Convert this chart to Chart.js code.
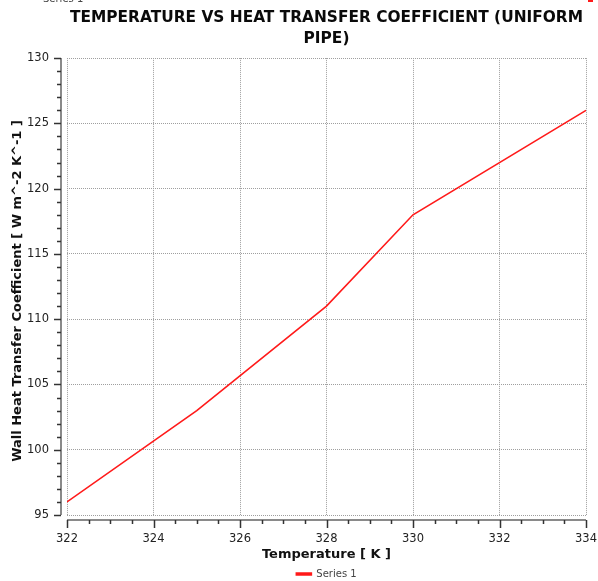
<!DOCTYPE html>
<html>
<head>
<meta charset="utf-8">
<script src="https://cdn.jsdelivr.net/npm/chart.js@4"></script>
<style>
  html,body{margin:0;padding:0;background:#fff;overflow:hidden;}
  #wrap{position:relative;width:598px;height:581px;overflow:hidden;}
  #topleg{position:absolute;left:23px;top:-7px;font:10px "DejaVu Sans";color:#444;white-space:nowrap;}
  #topleg i{display:inline-block;width:15px;height:2px;background:#ff1a1a;vertical-align:middle;margin-right:5px;}
  #topmark{position:absolute;left:588px;top:0;width:5px;height:2px;background:#ff1a1a;}
</style>
</head>
<body>
<div id="wrap">
  <canvas id="c" width="598" height="581"></canvas>
  <div id="topleg"><i></i>Series 1</div>
  <div id="topmark"></div>
</div>
<script>
const temperatures = [322, 325, 328, 330, 334];
const htc = [96, 103, 111, 118, 126];
const seriesName = 'Series 1';
const titleLines = ['TEMPERATURE VS HEAT TRANSFER COEFFICIENT (UNIFORM', 'PIPE)'];
const xTitle = 'Temperature [ K ]';
const yTitle = 'Wall Heat Transfer Coefficient [ W m^-2 K^-1 ]';
const xRange = [322, 334], xStep = 2, xMinorStep = 0.5;
const yRange = [95, 130], yStep = 5, yMinorStep = 1;

const axesPlugin = {
  id: 'axesPlugin',
  afterDraw(chart) {
    const {ctx, chartArea: ca, scales: {x, y}} = chart;
    ctx.save();
    const ax = ca.left - 6;
    ctx.strokeStyle = '#8a8a8a';
    ctx.lineWidth = 2;
    ctx.beginPath();
    ctx.moveTo(ax, y.getPixelForValue(yRange[1]));
    ctx.lineTo(ax, y.getPixelForValue(yRange[0]));
    ctx.stroke();
    ctx.strokeStyle = '#333';
    ctx.lineWidth = 1.5;
    for (let v = yRange[0]; v <= yRange[1] + 1e-9; v += yMinorStep) {
      const py = Math.round(y.getPixelForValue(v)) + 0.5;
      const len = (Math.abs(v % yStep) < 1e-9) ? 7 : 4;
      ctx.beginPath();
      ctx.moveTo(ax, py);
      ctx.lineTo(ax - len, py);
      ctx.stroke();
    }
    const ay = ca.bottom + 5;
    ctx.strokeStyle = '#8a8a8a';
    ctx.lineWidth = 2;
    ctx.beginPath();
    ctx.moveTo(x.getPixelForValue(xRange[0]), ay);
    ctx.lineTo(x.getPixelForValue(xRange[1]), ay);
    ctx.stroke();
    ctx.strokeStyle = '#333';
    ctx.lineWidth = 1.5;
    for (let v = xRange[0]; v <= xRange[1] + 1e-9; v += xMinorStep) {
      const px = Math.round(x.getPixelForValue(v)) + 0.5;
      const len = (Math.abs((v - xRange[0]) % xStep) < 1e-9) ? 8 : 4;
      ctx.beginPath();
      ctx.moveTo(px, ay);
      ctx.lineTo(px, ay + len);
      ctx.stroke();
    }
    ctx.translate(18, 291);
    ctx.rotate(-Math.PI / 2);
    ctx.fillStyle = '#111';
    ctx.font = 'bold 13px "DejaVu Sans"';
    ctx.textAlign = 'center';
    ctx.textBaseline = 'middle';
    ctx.fillText(yTitle, 0, 0);
    ctx.restore();
  }
};

new Chart(document.getElementById('c'), {
  type: 'line',
  data: {
    datasets: [{
      label: seriesName,
      data: temperatures.map((t, i) => ({x: t, y: htc[i]})),
      borderColor: '#ff1a1a',
      backgroundColor: '#ff1a1a',
      borderWidth: 1.6,
      pointRadius: 0,
      tension: 0
    }]
  },
  options: {
    responsive: false,
    animation: false,
    devicePixelRatio: 1,
    layout: {padding: {left: 0, right: 12, top: 0, bottom: -8}},
    plugins: {
      title: {
        display: true,
        text: titleLines,
        fullSize: false,
        color: '#0a0a0a',
        font: {family: 'DejaVu Sans', size: 15.4, weight: 'bold', lineHeight: 1.4},
        padding: {top: 7, bottom: 8}
      },
      legend: {
        position: 'bottom',
        fullSize: false,
        labels: {
          boxWidth: 15, boxHeight: 2, padding: 4,
          color: '#444',
          font: {family: 'DejaVu Sans', size: 10}
        }
      },
      tooltip: {enabled: false}
    },
    scales: {
      x: {
        type: 'linear',
        min: xRange[0], max: xRange[1],
        afterFit: s => { s.height = 50; s.paddingLeft = 0; s.paddingRight = 0; },
        ticks: {stepSize: xStep, padding: 17, color: '#222', font: {family: 'DejaVu Sans', size: 11.5}},
        grid: {color: '#9f9f9f', lineWidth: 1, drawTicks: false},
        border: {display: false, dash: [1, 1]},
        title: {display: true, text: xTitle, color: '#111', font: {family: 'DejaVu Sans', size: 13, weight: 'bold'}, padding: {top: 0, bottom: 3}}
      },
      y: {
        type: 'linear',
        min: yRange[0], max: yRange[1],
        afterFit: s => { s.width = 67; s.paddingTop = 0; s.paddingBottom = 0; },
        ticks: {stepSize: yStep, padding: 18, color: '#222', font: {family: 'DejaVu Sans', size: 11.5}},
        grid: {color: '#9f9f9f', lineWidth: 1, drawTicks: false},
        border: {display: false, dash: [1, 1]}
      }
    }
  },
  plugins: [axesPlugin]
});
</script>
</body>
</html>
